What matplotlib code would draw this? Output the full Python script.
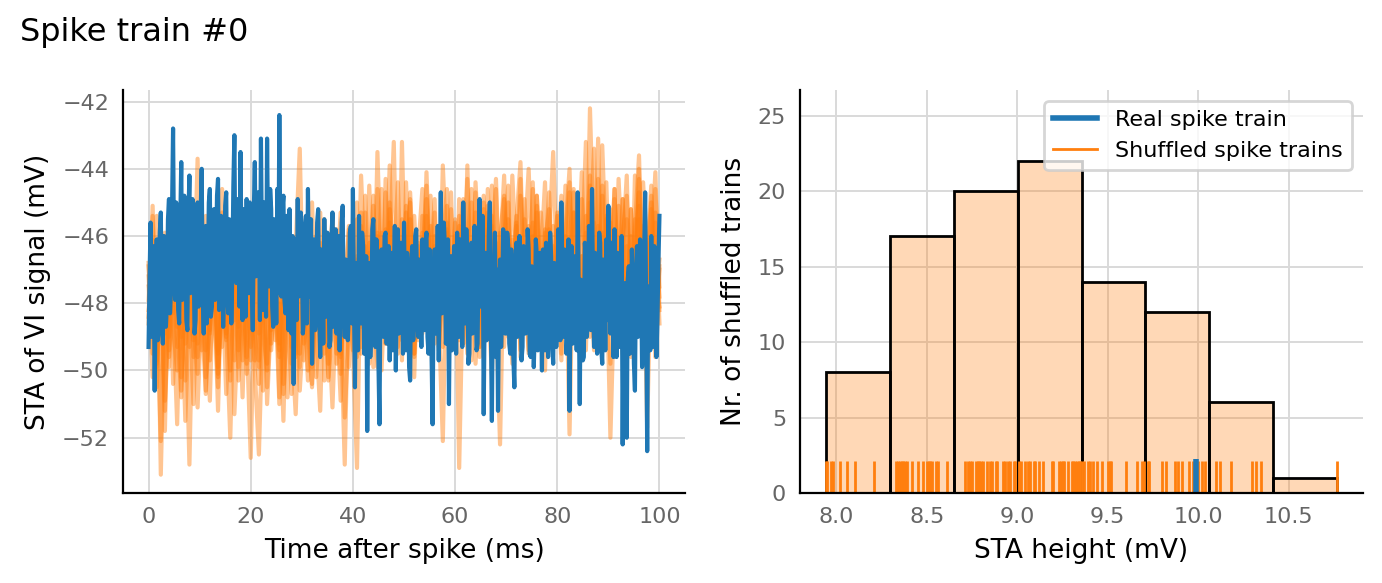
import numpy as np
import matplotlib
matplotlib.use("Agg")
import matplotlib.pyplot as plt
from matplotlib.lines import Line2D

# ---------------- data ----------------
title = "Spike train #0"

# Real spike-train STA (mV), sampled every 0.2 ms from 0 to 100 ms
real_sta = [
    -49.3, -47.2, -45.6, -49.0, -48.4, -46.3, -50.6, -47.5, -46.1, -49.1, -48.8, -45.9, -45.3, -48.1, -49.2, -46.0, -46.5, -48.7, -48.0, -45.5, -44.9, -48.3, -47.6, -45.1, -42.8, -46.9, -47.9, -45.0, -45.4, -48.2, -48.6, -45.7, -43.8, -47.9, -47.2, -44.8, -45.9, -48.5, -48.8, -45.4, -44.2, -47.7, -47.0, -44.9, -46.1, -48.9, -48.5, -45.6, -45.0, -48.1,
    -47.8, -45.3, -44.0, -47.6, -48.9, -46.2, -45.7, -48.6, -47.3, -45.0, -44.6, -48.4, -48.1, -45.6, -45.2, -47.9, -46.9, -44.8, -44.3, -48.2, -48.0, -45.4, -45.8, -48.7, -47.5, -45.1, -44.7, -47.8, -48.3, -45.5, -46.0, -48.6, -47.1, -44.5, -43.0, -47.0, -47.4, -44.9, -45.3, -48.1, -43.5, -46.8, -48.5, -45.2, -46.2, -48.4, -44.9, -47.3, -47.7, -45.0,
    -45.1, -47.4, -48.8, -45.3, -43.8, -47.2, -47.0, -44.7, -45.6, -48.5, -43.1, -46.6, -48.2, -45.0, -46.3, -48.4, -43.1, -46.2, -47.5, -44.6, -45.2, -48.1, -48.7, -45.5, -46.0, -48.6, -44.6, -47.7, -42.4, -46.4, -47.8, -45.2, -44.8, -47.9, -48.3, -45.4, -46.7, -48.8, -45.2, -47.9, -48.9, -46.0, -50.4, -47.1, -46.1, -48.5, -44.9, -47.8, -47.6, -45.3,
    -46.3, -48.9, -48.5, -45.8, -45.4, -48.6, -44.6, -47.3, -47.8, -45.5, -49.8, -47.0, -46.1, -48.8, -48.3, -45.6, -45.2, -48.0, -49.6, -46.4, -47.0, -49.2, -45.5, -48.1, -48.4, -45.9, -46.6, -49.3, -49.1, -46.2, -45.3, -48.7, -47.5, -45.8, -48.9, -46.5, -46.0, -49.4, -47.3, -45.6, -45.1, -48.3, -49.0, -46.7, -46.8, -49.1, -48.2, -45.9, -45.7, -48.6,
    -44.6, -47.9, -50.5, -46.8, -47.2, -49.4, -45.4, -48.3, -48.6, -45.9, -46.3, -49.5, -49.0, -46.6, -51.8, -48.2, -46.8, -49.6, -48.7, -45.8, -45.5, -48.9, -49.3, -46.1, -47.1, -49.8, -51.6, -47.4, -46.4, -48.8, -49.0, -46.0, -45.9, -49.2, -48.1, -46.3, -49.7, -47.0, -46.5, -49.4, -47.8, -45.7, -50.0, -47.6, -45.8, -48.9, -48.6, -46.2, -46.9, -49.5,
    -45.6, -48.7, -49.4, -46.5, -47.2, -49.9, -50.3, -46.9, -46.3, -49.1, -48.5, -46.0, -45.8, -48.4, -49.0, -46.7, -47.6, -49.3, -46.1, -48.6, -48.8, -46.2, -45.9, -49.0, -49.5, -46.4, -47.0, -49.6, -51.6, -47.5, -46.4, -48.9, -48.2, -45.7, -49.7, -47.1, -44.7, -48.3, -47.9, -45.6, -46.3, -49.2, -48.8, -46.1, -51.0, -47.7, -46.6, -49.4, -49.2, -46.3,
    -47.4, -49.5, -45.9, -48.7, -49.0, -46.1, -46.4, -49.3, -45.0, -47.8, -48.6, -45.8, -47.1, -49.8, -49.5, -46.6, -46.2, -48.9, -48.3, -45.7, -47.0, -49.4, -49.2, -46.5, -44.9, -48.1, -47.6, -45.4, -51.3, -47.9, -46.5, -49.1, -48.8, -46.0, -45.0, -48.6, -51.5, -47.5, -47.3, -45.9, -49.6, -47.0, -51.2, -48.0, -46.7, -49.3, -48.4, -45.8, -46.0, -48.9,
    -48.9, -45.9, -46.3, -49.2, -49.5, -46.4, -47.0, -49.6, -50.5, -47.1, -46.2, -49.0, -48.7, -46.0, -47.6, -49.7, -49.3, -46.3, -46.5, -48.9, -48.2, -45.8, -46.4, -49.5, -49.6, -46.9, -47.3, -49.9, -48.8, -46.1, -46.6, -49.4, -49.1, -46.5, -47.8, -50.0, -46.4, -48.7, -49.4, -46.2, -47.1, -49.6, -48.5, -45.9, -46.6, -49.1, -49.8, -46.8, -47.0, -49.3,
    -48.3, -45.8, -46.2, -49.1, -45.0, -47.7, -49.0, -46.4, -47.4, -49.5, -48.8, -46.1, -51.2, -47.9, -46.3, -49.2, -49.1, -46.6, -47.2, -49.4, -44.7, -48.0, -51.0, -47.3, -47.5, -49.7, -49.6, -46.2, -46.8, -49.0, -48.4, -45.7, -46.0, -48.8, -44.6, -47.6, -49.3, -46.5, -47.1, -49.5, -48.7, -45.9, -46.2, -49.3, -49.8, -46.7, -47.0, -49.4, -46.1, -48.5,
    -45.1, -47.9, -48.9, -46.2, -47.2, -49.6, -45.8, -48.4, -49.6, -46.5, -46.6, -49.3, -48.3, -46.0, -52.2, -48.1, -47.4, -49.7, -52.0, -47.3, -46.9, -49.5, -49.2, -46.4, -47.6, -49.8, -50.6, -47.2, -46.3, -49.0, -48.9, -46.1, -47.1, -49.9, -49.5, -46.6, -44.7, -48.2, -52.4, -47.5, -47.8, -49.4, -46.0, -48.6, -49.3, -46.3, -47.2, -49.6, -48.5, -46.8,
    -45.4,
]

# Shuffled spike-train STAs (mV), sampled every 0.8 ms from 0 to 100 ms
shuffled_a = [
    -47.5, -48.9, -45.4, -53.1, -47.8, -49.6, -46.2, -48.7, -44.9, -50.3, -47.1, -48.2, -43.7, -49.4, -46.5, -48.8, -45.6, -50.1, -47.3, -48.5, -46.0, -49.7, -47.6, -45.2, -48.9,
    -52.6, -47.3, -48.9, -46.1, -49.8, -45.5, -48.2, -47.0, -50.4, -46.3, -48.7, -49.5, -46.8, -48.0, -45.9, -49.9, -47.4, -48.6, -46.2, -50.2, -47.7, -45.8, -48.5, -52.8, -47.0,
    -46.5, -48.9, -44.2, -47.3, -49.6, -45.8, -47.9, -44.6, -49.2, -46.4, -43.2, -48.7, -45.5, -47.8, -44.9, -49.5, -46.2, -48.3, -44.1, -47.5, -45.3, -49.0, -43.9, -46.8, -48.4,
    -45.6, -52.9, -46.9, -44.3, -48.6, -45.9, -49.3, -44.8, -47.2, -45.4, -48.1, -52.2, -46.0, -44.5, -48.8, -45.7, -49.4, -46.3, -44.0, -47.6, -45.1, -48.9, -46.6, -44.7, -47.9,
    -45.3, -48.5, -46.2, -44.4, -49.1, -47.0, -44.1, -48.3, -42.2, -46.5, -49.0, -44.8, -47.4, -45.6, -48.7, -44.3, -46.9, -49.5, -45.2, -47.8, -44.0, -48.8, -46.4, -45.0, -49.6,
    -47.0,
]
shuffled_b = [
    -48.6, -45.1, -49.9, -47.0, -51.8, -46.4, -48.3, -45.7, -50.6, -47.8, -52.8, -46.9, -49.2, -45.3, -48.0, -50.9, -46.6, -49.5, -44.6, -48.8, -52.0, -47.2, -49.9, -45.9, -48.4,
    -46.4, -49.7, -47.9, -45.2, -51.0, -48.3, -46.7, -49.4, -45.6, -48.1, -50.7, -46.3, -43.4, -49.2, -47.5, -45.0, -48.9, -51.2, -46.8, -48.5, -45.4, -49.8, -47.1, -48.8, -45.7,
    -49.3, -52.9, -46.0, -48.6, -44.5, -47.8, -49.9, -45.9, -47.3, -43.9, -48.9, -46.6, -49.1, -45.1, -47.7, -50.2, -46.3, -48.6, -45.4, -49.5, -47.0, -48.4, -52.1, -45.8, -48.8,
    -47.3, -45.4, -49.2, -43.9, -48.0, -46.5, -49.6, -45.0, -47.7, -50.1, -46.2, -48.5, -44.9, -47.0, -49.8, -45.6, -43.8, -48.3, -46.7, -49.1, -45.3, -47.9, -50.0, -46.1, -43.5,
    -47.4, -49.7, -46.0, -51.9, -45.3, -48.6, -46.8, -43.2, -49.0, -45.6, -48.1, -43.3, -46.7, -52.0, -47.5, -45.1, -48.9, -46.3, -49.6, -44.2, -47.0, -45.7, -51.7, -46.4, -44.1,
    -48.2,
]
shuffled_c = [
    -46.8, -50.2, -48.1, -52.1, -47.3, -49.0, -45.9, -48.6, -50.8, -46.7, -49.3, -47.5, -51.1, -48.0, -46.2, -49.7, -47.8, -50.5, -46.4, -48.9, -47.1, -51.3, -48.4, -46.6, -49.6,
    -47.9, -50.0, -52.5, -48.2, -46.9, -49.4, -47.6, -51.0, -48.7, -46.0, -49.8, -47.3, -50.6, -48.5, -46.4, -49.1, -47.9, -45.3, -50.3, -48.0, -46.8, -49.5, -47.4, -51.4, -48.6,
    -47.1, -45.0, -49.3, -47.8, -46.2, -49.0, -43.5, -47.6, -45.8, -48.5, -46.9, -44.4, -48.1, -46.0, -49.6, -45.4, -47.7, -48.9, -44.9, -47.0, -46.3, -49.2, -45.6, -47.9, -44.7,
    -48.3, -45.7, -47.4, -49.5, -45.0, -47.9, -46.4, -48.8, -44.6, -47.2, -49.4, -45.9, -47.6, -48.3, -44.2, -46.8, -49.0, -45.5, -47.3, -48.6, -44.8, -46.9, -49.2, -45.8, -47.5,
    -49.0, -45.6, -47.8, -44.7, -48.6, -46.2, -44.9, -48.2, -46.0, -43.4, -47.6, -49.2, -45.5, -47.9, -44.6, -48.4, -46.3, -49.5, -45.2, -47.7, -44.3, -49.1, -46.5, -44.5, -48.0,
    -46.7,
]
shuffled_d = [
    -48.2, -46.5, -49.8, -47.1, -50.9, -48.4, -46.9, -49.3, -47.6, -51.5, -48.0, -46.3, -49.6, -47.4, -50.2, -48.7, -46.8, -49.9, -47.2, -50.7, -48.3, -46.6, -49.4, -47.8, -50.1,
    -48.5, -46.4, -49.7, -47.0, -50.5, -48.1, -46.1, -49.2, -47.5, -50.8, -48.4, -46.7, -49.5, -47.3, -50.0, -48.0, -46.5, -49.1, -47.7, -50.3, -48.6, -46.2, -49.6, -47.4, -49.9,
    -46.2, -48.1, -45.3, -49.4, -47.0, -44.8, -48.6, -46.5, -49.2, -45.6, -47.8, -49.5, -43.2, -48.3, -44.7, -47.4, -49.1, -45.9, -47.6, -45.7, -48.0, -46.4, -49.3, -45.1, -47.7,
    -49.0, -44.9, -47.5, -45.8, -48.7, -44.4, -46.9, -49.3, -45.3, -47.8, -44.6, -48.5, -46.1, -45.0, -49.1, -47.0, -44.3, -48.2, -45.7, -47.4, -44.8, -49.0, -46.3, -45.2, -48.4,
    -45.8, -47.9, -44.5, -48.8, -46.1, -45.0, -49.3, -46.7, -44.2, -47.5, -43.1, -48.6, -45.4, -47.3, -44.6, -49.2, -46.0, -44.8, -47.7, -45.5, -48.9, -44.4, -46.8, -49.0, -45.3,
    -47.8,
]
shuffled_e = [
    -47.2, -49.5, -46.4, -48.8, -45.9, -49.9, -47.6, -46.3, -50.2, -47.9, -46.8, -49.1, -45.7, -48.4, -50.6, -46.9, -48.2, -45.5, -49.3, -47.4, -50.0, -46.6, -48.7, -47.1, -49.8,
    -46.5, -48.9, -50.4, -47.3, -45.8, -49.2, -47.8, -46.1, -50.7, -48.3, -46.7, -49.6, -45.6, -48.0, -50.3, -47.0, -48.8, -46.2, -49.5, -47.5, -45.4, -48.6, -50.1, -46.9, -48.4,
    -47.6, -45.5, -48.7, -46.3, -49.4, -45.1, -47.9, -48.8, -44.7, -47.2, -49.1, -46.0, -48.3, -45.3, -47.7, -49.6, -46.4, -44.6, -48.5, -46.8, -49.2, -45.7, -47.4, -48.9, -45.2,
    -48.1, -46.2, -44.9, -48.7, -47.0, -45.3, -49.3, -46.6, -48.0, -44.5, -47.5, -49.0, -45.8, -47.8, -46.1, -48.9, -44.8, -47.3, -49.5, -45.6, -48.2, -46.7, -44.4, -48.6, -47.1,
    -45.4, -48.3, -46.5, -49.2, -44.6, -47.7, -48.8, -45.9, -47.0, -49.4, -44.3, -48.0, -46.8, -45.2, -48.6, -47.3, -44.9, -49.1, -46.0, -48.4, -45.5, -47.9, -49.6, -44.8, -47.4,
    -48.1,
]
shuffled_f = [
    -48.4, -46.1, -49.7, -47.0, -48.9, -45.8, -50.4, -47.5, -49.0, -46.4, -48.1, -51.0, -47.3, -45.6, -49.4, -48.0, -46.7, -50.2, -47.8, -49.1, -45.9, -48.5, -47.2, -50.8, -46.8,
    -49.3, -47.1, -45.5, -48.7, -50.0, -46.6, -48.2, -49.6, -47.4, -45.9, -49.0, -51.3, -47.7, -46.3, -48.9, -50.5, -46.0, -48.4, -47.0, -49.8, -46.4, -48.1, -50.9, -47.6, -45.8,
    -48.2, -46.7, -49.5, -44.8, -47.4, -48.6, -45.9, -50.0, -47.1, -45.0, -48.4, -46.3, -49.7, -44.4, -47.8, -46.5, -49.0, -45.4, -48.1, -46.9, -44.9, -49.3, -47.2, -45.6, -48.7,
    -46.0, -48.8, -45.1, -47.6, -49.7, -44.7, -47.9, -46.4, -48.5, -45.7, -49.2, -46.6, -44.2, -48.3, -47.0, -45.4, -49.6, -46.8, -48.0, -44.6, -47.4, -49.0, -45.9, -48.4, -46.3,
    -48.9, -45.3, -47.8, -46.1, -44.7, -48.5, -46.6, -49.4, -45.0, -47.3, -48.7, -44.5, -47.1, -49.8, -45.8, -48.2, -46.4, -44.2, -48.9, -47.0, -45.1, -49.3, -46.2, -48.0, -44.6,
    -47.5,
]
shuffled_g = [
    -46.9, -48.6, -50.5, -47.7, -46.0, -49.4, -48.1, -51.6, -47.0, -49.2, -46.5, -48.4, -50.1, -47.6, -45.4, -48.9, -47.3, -51.2, -46.6, -49.0, -48.0, -46.2, -50.3, -48.5, -47.1,
    -49.7, -46.8, -48.3, -50.6, -47.4, -45.7, -49.1, -48.0, -51.5, -46.5, -48.6, -47.2, -49.9, -45.9, -48.2, -50.4, -47.0, -49.3, -46.1, -48.5, -51.1, -47.6, -45.3, -49.0, -47.8,
    -49.4, -46.6, -48.0, -45.3, -49.8, -47.1, -46.0, -48.9, -44.3, -47.5, -49.2, -45.8, -48.4, -46.9, -45.0, -49.5, -47.3, -46.1, -48.7, -44.8, -47.9, -49.0, -46.3, -44.6, -48.2,
    -47.2, -49.1, -45.6, -48.4, -46.2, -49.8, -47.6, -45.2, -48.9, -46.7, -44.3, -47.9, -49.3, -45.5, -48.6, -46.4, -49.0, -44.9, -47.7, -46.0, -49.4, -45.3, -47.5, -48.8, -45.7,
    -47.0, -49.5, -45.9, -44.0, -48.1, -46.3, -49.0, -45.4, -47.6, -48.9, -45.7, -47.2, -44.4, -48.5, -46.7, -49.3, -44.9, -47.4, -48.8, -45.8, -43.6, -48.0, -46.1, -49.1, -45.6,
    -48.6,
]
shuffled_h = [
    -47.9, -45.4, -49.1, -47.3, -51.2, -46.2, -48.7, -50.0, -46.8, -48.3, -45.6, -49.6, -47.5, -46.1, -50.7, -48.2, -46.9, -49.4, -45.3, -48.0, -50.3, -47.2, -46.4, -49.7, -48.5,
    -46.0, -48.6, -49.9, -47.2, -45.2, -48.8, -46.5, -50.8, -47.9, -46.3, -49.3, -48.0, -45.8, -49.7, -47.1, -46.6, -50.2, -48.4, -45.5, -49.0, -47.4, -46.2, -49.5, -48.1, -46.9,
    -47.8, -49.6, -45.7, -48.3, -46.5, -49.9, -44.6, -47.7, -48.6, -45.2, -47.0, -49.3, -46.2, -48.8, -45.5, -47.5, -49.0, -46.7, -44.5, -48.1, -46.0, -49.4, -47.3, -45.9, -48.5,
    -45.5, -47.8, -49.2, -46.3, -44.6, -48.5, -46.9, -49.6, -45.1, -47.4, -48.7, -46.0, -44.8, -49.0, -47.2, -45.6, -48.3, -46.5, -49.4, -44.4, -47.6, -48.9, -45.8, -47.1, -49.2,
    -46.4, -44.8, -48.7, -47.1, -45.3, -49.0, -46.6, -48.2, -44.5, -47.8, -49.3, -45.9, -47.4, -48.6, -44.9, -46.8, -49.5, -45.5, -48.1, -46.3, -44.7, -48.8, -47.0, -45.2, -49.1,
    -46.9,
]
shuffled_traces = [shuffled_a, shuffled_b, shuffled_c, shuffled_d,
                   shuffled_e, shuffled_f, shuffled_g, shuffled_h]

# STA heights (mV) of the 100 shuffled trains and of the real train
shuffled_heights = [
    7.94, 7.95, 7.97, 7.98, 8.02, 8.06, 8.10, 8.21,
    8.33, 8.34, 8.35, 8.36, 8.37, 8.38, 8.39, 8.42, 8.45, 8.48, 8.50, 8.51, 8.52, 8.53, 8.55, 8.56, 8.61,
    8.71, 8.73, 8.74, 8.75, 8.77, 8.78, 8.79, 8.80, 8.81, 8.83, 8.85, 8.86, 8.88, 8.89, 8.92, 8.93, 8.95, 8.96, 8.98, 8.99,
    9.01, 9.02, 9.04, 9.06, 9.07, 9.09, 9.10, 9.12, 9.14, 9.19, 9.20, 9.23, 9.24, 9.25, 9.26, 9.28, 9.30, 9.31, 9.32, 9.33, 9.34, 9.345,
    9.36, 9.37, 9.39, 9.40, 9.42, 9.44, 9.47, 9.50, 9.51, 9.52, 9.60, 9.66, 9.69, 9.70,
    9.72, 9.73, 9.80, 9.82, 9.87, 9.89, 9.91, 9.95, 9.97, 10.00, 10.02, 10.04,
    10.10, 10.12, 10.18, 10.30, 10.32, 10.35,
    10.77,
]
real_height = 9.99
n_bins = 8

# ---------------- style ----------------
plt.rcParams["font.family"] = ["DejaVu Sans"]
TICK_COLOR = "#666666"
GRID_COLOR = "#d9d9d9"
BLUE = "#1f77b4"
ORANGE = "#ff7f0e"

fig = plt.figure(figsize=(6.91, 2.915), dpi=200)
W, H = 1382, 583
ax1 = fig.add_axes([123 / W, 1 - 493 / H, (685 - 123) / W, (493 - 90) / H])
ax2 = fig.add_axes([800 / W, 1 - 493 / H, (1363 - 800) / W, (493 - 90) / H])

fig.text(20 / W, 1 - 33 / H, title, ha="left", va="center", fontsize=11.5)


def style(ax):
    for s in ("top", "right"):
        ax.spines[s].set_visible(False)
    for s in ("left", "bottom"):
        ax.spines[s].set_color("black")
        ax.spines[s].set_linewidth(0.8)
    ax.grid(True, color=GRID_COLOR, linewidth=0.7)
    ax.set_axisbelow(True)
    ax.tick_params(length=0, labelsize=8, labelcolor=TICK_COLOR, pad=5)


# ---- left: STA traces ----
t_real = np.linspace(0, 100, len(real_sta))
for tr in shuffled_traces:
    t_sh = np.linspace(0, 100, len(tr))
    ax1.plot(t_sh, tr, color=ORANGE, alpha=0.45, lw=1.5)
ax1.plot(t_real, real_sta, color=BLUE, lw=1.5)
style(ax1)
ax1.set_xticks([0, 20, 40, 60, 80, 100])
ax1.set_yticks([-52, -50, -48, -46, -44, -42])
ax1.set_yticklabels(["\u221252", "\u221250", "\u221248", "\u221246", "\u221244", "\u221242"])
ax1.set_xlabel("Time after spike (ms)", fontsize=9.5)
ax1.set_ylabel("STA of VI signal (mV)", fontsize=9.5)

# ---- right: histogram of STA heights ----
ax2.hist(shuffled_heights, bins=n_bins, facecolor=(1.0, 0.498, 0.055, 0.3),
         edgecolor="black", linewidth=1.0)
ax2.vlines(shuffled_heights, 0, 0.08, transform=ax2.get_xaxis_transform(),
           color=ORANGE, lw=1.0)
ax2.vlines([real_height], 0, 0.085, transform=ax2.get_xaxis_transform(),
           color=BLUE, lw=2.0)
style(ax2)
ax2.set_ylim(0, 26.7)
ax2.set_xticks([8.0, 8.5, 9.0, 9.5, 10.0, 10.5])
ax2.set_yticks([0, 5, 10, 15, 20, 25])
ax2.set_xlabel("STA height (mV)", fontsize=9.5)
ax2.set_ylabel("Nr. of shuffled trains", fontsize=9.5)
handles = [Line2D([], [], color=BLUE, lw=2.0), Line2D([], [], color=ORANGE, lw=1.0)]
ax2.legend(handles, ["Real spike train", "Shuffled spike trains"], loc="upper right",
           fontsize=8, frameon=True, framealpha=0.8, edgecolor="#cccccc",
           borderaxespad=0.5)

fig.savefig("out.png", dpi=200)
